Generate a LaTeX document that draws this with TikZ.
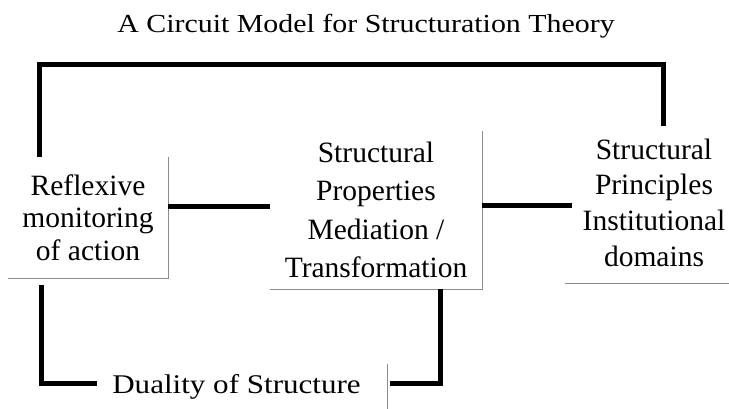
\documentclass[tikz,border=0pt]{standalone}
\usepackage{fontspec}
\setmainfont{Liberation Serif}
\newfontfamily\widefont{Liberation Serif}[FakeStretch=1.15]
\usetikzlibrary{calc}

\begin{document}
\begin{tikzpicture}[x=1pt,y=-1pt,
  boxnode/.style={align=center, inner sep=0pt},
  rim/.style={black!45, line width=1pt},
  wire/.style={line width=5pt, line join=miter}]
\useasboundingbox (0,0) rectangle (729,408);

% heading
\node[inner sep=0pt, font=\widefont\fontsize{26}{30}\selectfont] (title) at (366,26)
  {A Circuit Model for Structuration Theory};

% the three boxes of the circuit and the bottom label
\node[boxnode, minimum width=160pt, minimum height=121pt,
      font=\fontsize{29.5}{32.5}\selectfont] (lbox) at (88,217.5)
  {Reflexive\\monitoring\\of action};
\node[boxnode, minimum width=212pt, minimum height=158pt,
      font=\fontsize{29.5}{38.2}\selectfont] (mbox) at (376,210)
  {Structural\\Properties\\Mediation /\\Transformation};
\node[boxnode, minimum width=178pt, minimum height=161pt,
      font=\fontsize{29.5}{35.6}\selectfont] (rbox) at (654,202.6)
  {Structural\\Principles\\Institutional\\domains};
\node[boxnode, minimum width=301pt, minimum height=46pt,
      font=\widefont\fontsize{27}{30}\selectfont] (duality) at (236.5,386.8)
  {Duality of Structure};

% light edges on the right and bottom of the boxes
\coordinate (edge) at (729,0);
\draw[rim] (lbox.north east) -- (lbox.south east) -- (lbox.south west);
\draw[rim] (mbox.north east) -- (mbox.south east) -- (mbox.south west);
\draw[rim] (rbox.south west) -- (rbox.south west -| edge);
\draw[rim] (duality.north east) -- (duality.south east);

% circuit wires
\draw[wire] ([xshift=32pt]lbox.north west) -- ++(0,-92)
  -| ([xshift=9pt,yshift=-4pt]rbox.north);
\draw[wire] ($(lbox.east)+(0,-11)$) coordinate (lm) -- (lm -| mbox.west);
\draw[wire] ($(mbox.east)+(0,-5)$) coordinate (mr) -- ($(mr -| rbox.west)+(7,0)$);
\draw[wire] ($(lbox.south west)+(34,7)$) |- ($(duality.west)+(11,-3.8)$);
\draw[wire] ($(duality.east)+(3,-3.8)$) -| ([xshift=-42pt]mbox.south east);
\end{tikzpicture}
\end{document}
